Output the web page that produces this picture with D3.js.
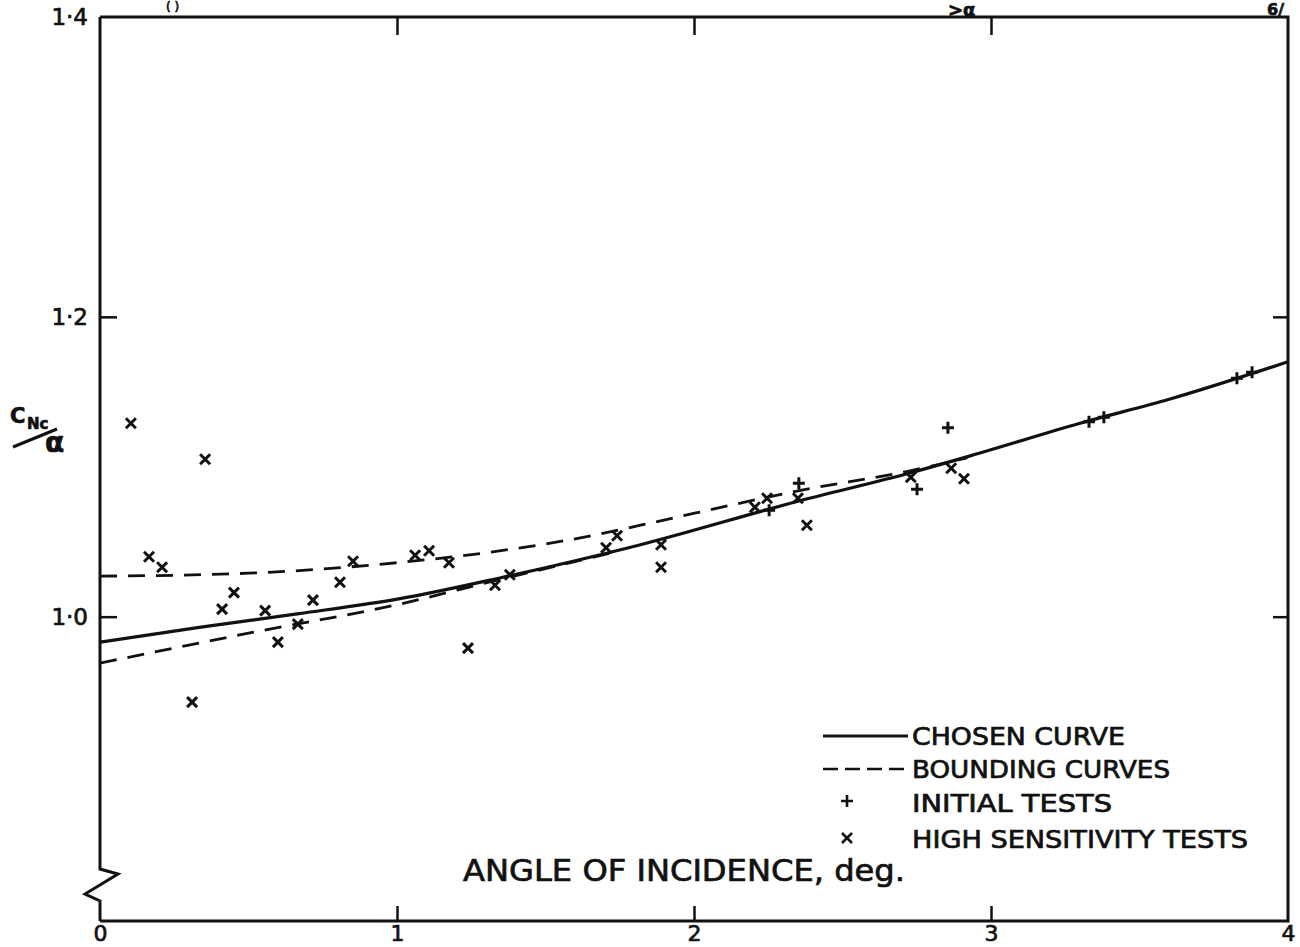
<!DOCTYPE html>
<html>
<head>
<meta charset="utf-8">
<script src="https://cdn.jsdelivr.net/npm/d3@7"></script>
<style>
  body { margin: 0; background: #fff; }
  svg { display: block; }
  text { font-family: "DejaVu Sans", sans-serif; fill: #111; stroke: #111; stroke-width: 0.7px; }
</style>
</head>
<body>
<div id="chart"></div>
<script>
// chosen curve
const chosenX = [0, 0.34, 0.67, 1.01, 1.35, 1.82, 2.35, 2.73, 2.96, 3.3, 3.6, 4.0];
const chosenY = [0.983, 0.993, 1.002, 1.012, 1.026, 1.048, 1.077, 1.096, 1.109, 1.129, 1.145, 1.170];

// bounding curves
const lowerX = [0, 0.5, 1.0, 1.35, 1.5, 1.75];
const lowerY = [0.969, 0.989, 1.008, 1.025, 1.032, 1.044];
const upperX = [0, 0.5, 1.0, 1.35, 1.68, 1.82, 2.38, 2.72, 2.92];
const upperY = [1.027, 1.029, 1.036, 1.044, 1.055, 1.061, 1.085, 1.097, 1.106];

// initial tests (+)
const initialX = [2.253, 2.353, 2.751, 2.855, 3.33, 3.38, 3.828, 3.879];
const initialY = [1.071, 1.089, 1.085, 1.126, 1.130, 1.133, 1.159, 1.163];

// high sensitivity tests (x)
const highX = [0.104, 0.354, 0.165, 0.209, 0.31, 0.411, 0.451, 0.556, 0.599, 0.666, 0.717, 0.808, 0.852,
               1.061, 1.108, 1.175, 1.239, 1.33, 1.38, 1.704, 1.741, 1.889, 1.889, 2.205, 2.246, 2.35,
               2.38, 2.73, 2.866, 2.909];
const highY = [1.129, 1.105, 1.040, 1.033, 0.943, 1.005, 1.016, 1.004, 0.983, 0.995, 1.011, 1.023, 1.037,
               1.041, 1.044, 1.036, 0.979, 1.021, 1.028, 1.046, 1.054, 1.048, 1.033, 1.073, 1.079, 1.079,
               1.061, 1.093, 1.099, 1.092];

const xTicks = [0, 1, 2, 3, 4];
const yTicks = [1.0, 1.2, 1.4];
const legendItems = ['CHOSEN  CURVE', 'BOUNDING  CURVES', 'INITIAL  TESTS', 'HIGH  SENSITIVITY  TESTS'];

const width = 1300, height = 947;
const svg = d3.select('#chart').append('svg')
    .attr('width', width)
    .attr('height', height)
    .style('background', '#fff');

const x = d3.scaleLinear().domain([0, 4]).range([100, 1288]);
const y = d3.scaleLinear().domain([0.797, 1.4]).range([921, 17]);

const ink = '#111';
const x0 = x(0), x1 = x(4), yTop = y(1.4), yBot = y(0.797);

// frame: top, right, bottom and a left side with the axis break
const frame = svg.append('g').attr('fill', 'none').attr('stroke', ink)
    .attr('stroke-width', 3).attr('stroke-linejoin', 'miter');
frame.append('path').attr('d', `M${x0},${yBot}H${x1}V${yTop}H${x0}`);
const brk = yBot - 52;
frame.append('path').attr('d',
    `M${x0},${yTop}V${brk}L${x0 + 18},${brk + 5}L${x0 - 15},${brk + 25}L${x0},${brk + 32}V${yBot}`);

// bottom axis: ticks point up, digits below
const xAxis = svg.append('g')
    .attr('transform', `translate(0,${yBot})`)
    .call(d3.axisBottom(x).tickValues(xTicks).tickSize(-15).tickPadding(4).tickFormat(d3.format('d')));
xAxis.select('.domain').remove();
xAxis.selectAll('line').attr('stroke', ink).attr('stroke-width', 2.5)
    .filter(d => d === 0 || d === 4).remove();
xAxis.selectAll('text').attr('font-size', 22).attr('fill', ink);

// top ticks
const xTop = svg.append('g')
    .attr('transform', `translate(0,${yTop})`)
    .call(d3.axisTop(x).tickValues([1, 2, 3]).tickSize(-18).tickFormat(''));
xTop.select('.domain').remove();
xTop.selectAll('line').attr('stroke', ink).attr('stroke-width', 2.5);

// left axis labels + inward ticks
const yAxis = svg.append('g')
    .attr('transform', `translate(${x0},0)`)
    .call(d3.axisLeft(y).tickValues(yTicks).tickSize(-17).tickPadding(12)
        .tickFormat(d => d.toFixed(1).replace('.', '\u00b7')));
yAxis.select('.domain').remove();
yAxis.selectAll('line').attr('stroke', ink).attr('stroke-width', 2.5)
    .filter(d => d === 1.4).remove();
yAxis.selectAll('text').attr('font-size', 23).attr('fill', ink);

// right ticks
const yRight = svg.append('g')
    .attr('transform', `translate(${x1},0)`)
    .call(d3.axisRight(y).tickValues([1.0, 1.2]).tickSize(-15).tickFormat(''));
yRight.select('.domain').remove();
yRight.selectAll('line').attr('stroke', ink).attr('stroke-width', 2.5);

// curves
const line = d3.line().x(d => x(d[0])).y(d => y(d[1])).curve(d3.curveMonotoneX);
const curves = svg.append('g').attr('fill', 'none').attr('stroke', ink).attr('stroke-linecap', 'butt');
curves.append('path').datum(d3.zip(chosenX, chosenY)).attr('d', line).attr('stroke-width', 3.2);
curves.append('path').datum(d3.zip(lowerX, lowerY)).attr('d', line)
    .attr('stroke-width', 2.8).attr('stroke-dasharray', '17,11');
curves.append('path').datum(d3.zip(upperX, upperY)).attr('d', line)
    .attr('stroke-width', 2.8).attr('stroke-dasharray', '17,11');

// markers
const plus = s => `M${-s},0H${s}M0,${-s}V${s}`;
const cross = s => `M${-s},${-s}L${s},${s}M${-s},${s}L${s},${-s}`;
const marks = svg.append('g').attr('fill', 'none').attr('stroke', ink).attr('stroke-width', 3);
marks.selectAll('path.init').data(d3.zip(initialX, initialY)).join('path')
    .attr('class', 'init')
    .attr('transform', d => `translate(${x(d[0])},${y(d[1])})`)
    .attr('d', plus(6));
marks.selectAll('path.high').data(d3.zip(highX, highY)).join('path')
    .attr('class', 'high')
    .attr('transform', d => `translate(${x(d[0])},${y(d[1])})`)
    .attr('d', cross(5));

// legend
const lg = svg.append('g');
const lgX = 823, lgTextX = 912;
const rows = [736, 769, 803, 839];
const textLens = [213, 258, 200, 336];
lg.append('line').attr('x1', lgX).attr('x2', 908).attr('y1', rows[0]).attr('y2', rows[0])
    .attr('stroke', ink).attr('stroke-width', 3);
lg.append('line').attr('x1', lgX).attr('x2', 908).attr('y1', rows[1]).attr('y2', rows[1])
    .attr('stroke', ink).attr('stroke-width', 2.6).attr('stroke-dasharray', '15,7');
lg.append('path').attr('transform', `translate(847,${rows[2] - 2})`).attr('d', plus(6))
    .attr('stroke', ink).attr('stroke-width', 2.6).attr('fill', 'none');
lg.append('path').attr('transform', `translate(847,${rows[3] - 1})`).attr('d', cross(5))
    .attr('stroke', ink).attr('stroke-width', 2.6).attr('fill', 'none');
lg.selectAll('text').data(legendItems).join('text')
    .attr('x', lgTextX)
    .attr('y', (d, i) => rows[i] + 9)
    .attr('font-size', 24)
    .attr('textLength', (d, i) => textLens[i])
    .attr('lengthAdjust', 'spacingAndGlyphs')
    .text(d => d);

// x axis title
svg.append('text')
    .attr('x', 463).attr('y', 881)
    .attr('font-size', 30)
    .attr('textLength', 442)
    .attr('lengthAdjust', 'spacingAndGlyphs')
    .text('ANGLE  OF  INCIDENCE,  deg.');

// y axis title: C_Nc / alpha
const yt = svg.append('g');
yt.append('text').attr('x', 10).attr('y', 423).attr('font-size', 21).attr('font-weight', 'bold').text('C');
yt.append('text').attr('x', 27).attr('y', 429).attr('font-size', 15).attr('font-weight', 'bold').text('Nc');
yt.append('line').attr('x1', 13).attr('y1', 447).attr('x2', 57).attr('y2', 429)
    .attr('stroke', ink).attr('stroke-width', 3);
yt.append('text').attr('x', 45).attr('y', 452).attr('font-size', 28).attr('font-weight', 'bold').text('\u03b1');

// fragments of the page header along the top edge
svg.append('text').attr('x', 166).attr('y', 11).attr('font-size', 12).text('(  )');
svg.append('text').attr('x', 948).attr('y', 16).attr('font-size', 18).attr('font-weight', 'bold').text('>\u03b1');
svg.append('text').attr('x', 1267).attr('y', 15).attr('font-size', 16).attr('font-weight', 'bold').text('6/');
</script>
</body>
</html>
